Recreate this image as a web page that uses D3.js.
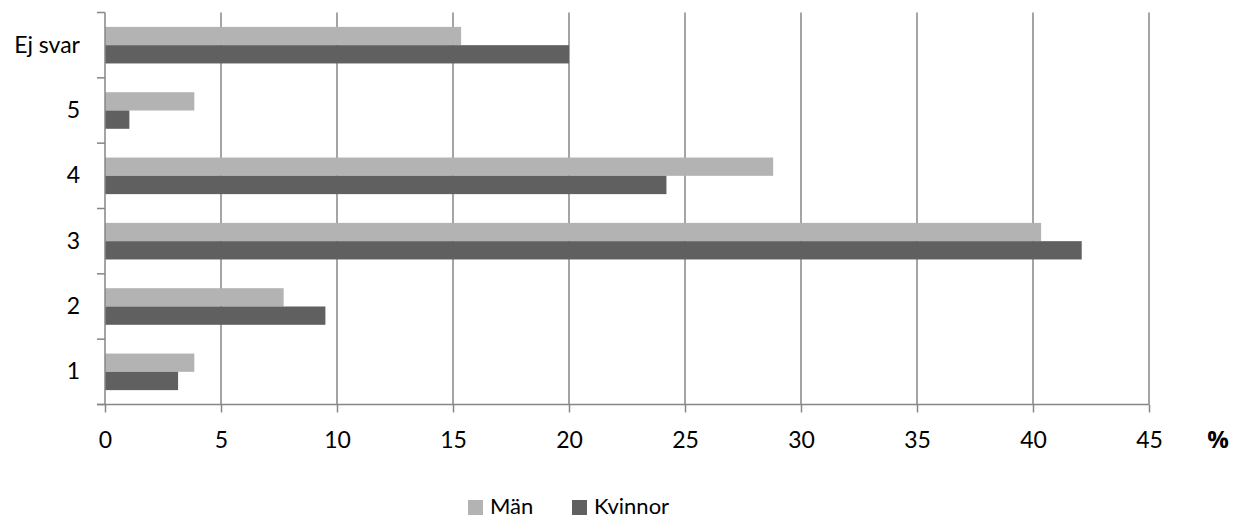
<!DOCTYPE html>
<html><head><meta charset="utf-8">
<script src="https://cdn.jsdelivr.net/npm/d3@7"></script>
<style>body{margin:0;background:#fff;} text{font-family:Lato,"Open Sans",sans-serif;}</style>
</head><body><svg id="c" width="1240" height="520"></svg>
<script>
const categories = ["Ej svar","5","4","3","2","1"];
const seriesNames = ["Män","Kvinnor"];
const manValues = [15.35, 3.85, 28.8, 40.35, 7.7, 3.85];
const kvinnorValues = [20.0, 1.05, 24.2, 42.1, 9.5, 3.15];
const xTicks = [0,5,10,15,20,25,30,35,40,45];
const colors = ["#b3b3b3","#606060"];

const svg = d3.select("#c");
const L = 105, R = 1149, T = 12.5, B = 404.5;
const FS = 23;
const x = d3.scaleLinear().domain([0,45]).range([L,R]);
const y = d3.scaleBand().domain(categories).range([T,B]).paddingInner(0.44).paddingOuter(0.22);
const sub = d3.scaleBand().domain(seriesNames).range([0,y.bandwidth()]);
const grid = "#868686";

// gridlines
svg.append("g").selectAll("line").data(xTicks.slice(1)).join("line")
  .attr("x1",d=>x(d)).attr("x2",d=>x(d)).attr("y1",T).attr("y2",B)
  .attr("stroke",grid).attr("stroke-width",1.5);

// bars
const data = categories.map((c,i)=>({c, vals:[manValues[i],kvinnorValues[i]]}));
const g = svg.append("g");
data.forEach(d=>{
  d.vals.forEach((v,j)=>{
    g.append("rect").attr("x",x(0)).attr("y",y(d.c)+sub(seriesNames[j]))
      .attr("width",x(v)-x(0)).attr("height",sub.bandwidth()).attr("fill",colors[j]);
  });
});

// x axis
const xa = svg.append("g").attr("transform",`translate(0,${B})`)
  .call(d3.axisBottom(x).tickValues(xTicks).tickSize(8).tickPadding(19.5));
xa.select(".domain").remove();
xa.append("line").attr("x1",97).attr("x2",R).attr("y1",0).attr("y2",0).attr("stroke",grid).attr("stroke-width",1.5);
xa.selectAll(".tick line").attr("stroke",grid).attr("stroke-width",1.5);
xa.selectAll(".tick text").attr("fill","#000").attr("font-size",FS).attr("font-family","Lato");

// y axis
const ya = svg.append("g").attr("transform",`translate(${L},0)`)
  .call(d3.axisLeft(y).tickSize(0).tickPadding(25));
ya.select(".domain").remove();
ya.append("line").attr("x1",0).attr("x2",0).attr("y1",T).attr("y2",B).attr("stroke",grid).attr("stroke-width",1.5);
const bounds = categories.map(c=>y(c)-y.step()*0.22).concat([B]);
ya.selectAll(".bnd").data(bounds).join("line").attr("class","bnd")
  .attr("x1",-8).attr("x2",0).attr("y1",d=>d).attr("y2",d=>d).attr("stroke",grid).attr("stroke-width",1.5);
ya.selectAll(".tick text").attr("fill","#000").attr("font-size",FS).attr("font-family","Lato");

svg.append("text").attr("x",1218).attr("y",448).attr("text-anchor","middle")
  .attr("font-size",24).attr("font-weight","bold").style("font-family","'Open Sans', sans-serif").text("%");

// legend
const lg = svg.append("g");
const lx = [468, 572];
seriesNames.forEach((s,i)=>{
  lg.append("rect").attr("x",lx[i]).attr("y",500).attr("width",15).attr("height",15).attr("fill",colors[i]);
  lg.append("text").attr("x",lx[i]+22).attr("y",514).attr("font-size",22).text(s);
});
</script></body></html>
